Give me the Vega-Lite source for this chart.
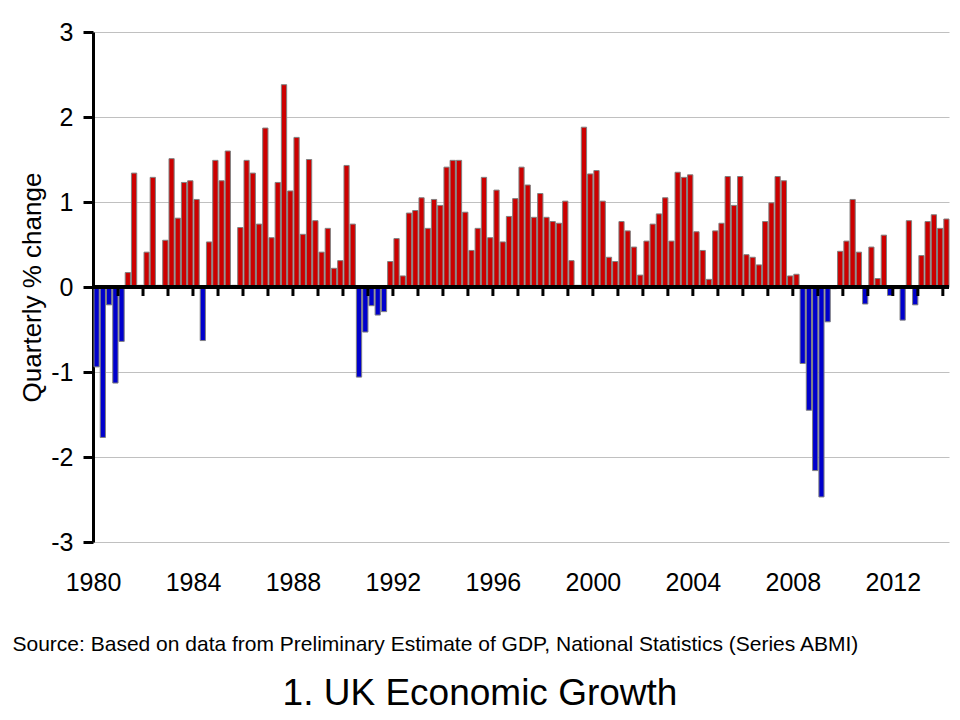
{
  "$schema": "https://vega.github.io/schema/vega-lite/v6.json",
  "autosize": "none",
  "width": 856,
  "height": 510,
  "padding": {"left": 93, "top": 32, "right": 11, "bottom": 178},
  "background": "white",
  "config": {"font": "Liberation Sans", "view": {"stroke": null}},
  "title": {"text": "1. UK Economic Growth", "orient": "bottom", "fontSize": 37, "fontWeight": "normal", "color": "black", "anchor": "middle", "offset": 22, "dx": -41, "font": "Liberation Sans"},
  "data": {
    "format": {"parse": {"d": "date"}},
    "values": [
      {"d":"1980-01-01","v":-0.94},{"d":"1980-04-01","v":-1.77},{"d":"1980-07-01","v":-0.21},{"d":"1980-10-01","v":-1.13},
      {"d":"1981-01-01","v":-0.64},{"d":"1981-04-01","v":0.17},{"d":"1981-07-01","v":1.34},{"d":"1981-10-01","v":0.02},
      {"d":"1982-01-01","v":0.41},{"d":"1982-04-01","v":1.29},{"d":"1982-07-01","v":0.02},{"d":"1982-10-01","v":0.55},
      {"d":"1983-01-01","v":1.51},{"d":"1983-04-01","v":0.81},{"d":"1983-07-01","v":1.23},{"d":"1983-10-01","v":1.25},
      {"d":"1984-01-01","v":1.03},{"d":"1984-04-01","v":-0.63},{"d":"1984-07-01","v":0.53},{"d":"1984-10-01","v":1.49},
      {"d":"1985-01-01","v":1.25},{"d":"1985-04-01","v":1.60},{"d":"1985-07-01","v":0.02},{"d":"1985-10-01","v":0.70},
      {"d":"1986-01-01","v":1.49},{"d":"1986-04-01","v":1.34},{"d":"1986-07-01","v":0.74},{"d":"1986-10-01","v":1.87},
      {"d":"1987-01-01","v":0.58},{"d":"1987-04-01","v":1.23},{"d":"1987-07-01","v":2.38},{"d":"1987-10-01","v":1.13},
      {"d":"1988-01-01","v":1.76},{"d":"1988-04-01","v":0.62},{"d":"1988-07-01","v":1.50},{"d":"1988-10-01","v":0.78},
      {"d":"1989-01-01","v":0.41},{"d":"1989-04-01","v":0.69},{"d":"1989-07-01","v":0.22},{"d":"1989-10-01","v":0.31},
      {"d":"1990-01-01","v":1.43},{"d":"1990-04-01","v":0.74},{"d":"1990-07-01","v":-1.06},{"d":"1990-10-01","v":-0.53},
      {"d":"1991-01-01","v":-0.22},{"d":"1991-04-01","v":-0.33},{"d":"1991-07-01","v":-0.29},{"d":"1991-10-01","v":0.30},
      {"d":"1992-01-01","v":0.57},{"d":"1992-04-01","v":0.13},{"d":"1992-07-01","v":0.87},{"d":"1992-10-01","v":0.90},
      {"d":"1993-01-01","v":1.05},{"d":"1993-04-01","v":0.69},{"d":"1993-07-01","v":1.03},{"d":"1993-10-01","v":0.96},
      {"d":"1994-01-01","v":1.41},{"d":"1994-04-01","v":1.49},{"d":"1994-07-01","v":1.49},{"d":"1994-10-01","v":0.88},
      {"d":"1995-01-01","v":0.43},{"d":"1995-04-01","v":0.69},{"d":"1995-07-01","v":1.29},{"d":"1995-10-01","v":0.58},
      {"d":"1996-01-01","v":1.14},{"d":"1996-04-01","v":0.53},{"d":"1996-07-01","v":0.83},{"d":"1996-10-01","v":1.04},
      {"d":"1997-01-01","v":1.41},{"d":"1997-04-01","v":1.20},{"d":"1997-07-01","v":0.82},{"d":"1997-10-01","v":1.10},
      {"d":"1998-01-01","v":0.82},{"d":"1998-04-01","v":0.77},{"d":"1998-07-01","v":0.75},{"d":"1998-10-01","v":1.01},
      {"d":"1999-01-01","v":0.31},{"d":"1999-04-01","v":0.02},{"d":"1999-07-01","v":1.88},{"d":"1999-10-01","v":1.33},
      {"d":"2000-01-01","v":1.37},{"d":"2000-04-01","v":1.01},{"d":"2000-07-01","v":0.35},{"d":"2000-10-01","v":0.30},
      {"d":"2001-01-01","v":0.77},{"d":"2001-04-01","v":0.66},{"d":"2001-07-01","v":0.47},{"d":"2001-10-01","v":0.14},
      {"d":"2002-01-01","v":0.54},{"d":"2002-04-01","v":0.74},{"d":"2002-07-01","v":0.86},{"d":"2002-10-01","v":1.05},
      {"d":"2003-01-01","v":0.54},{"d":"2003-04-01","v":1.35},{"d":"2003-07-01","v":1.29},{"d":"2003-10-01","v":1.32},
      {"d":"2004-01-01","v":0.65},{"d":"2004-04-01","v":0.43},{"d":"2004-07-01","v":0.09},{"d":"2004-10-01","v":0.66},
      {"d":"2005-01-01","v":0.75},{"d":"2005-04-01","v":1.30},{"d":"2005-07-01","v":0.96},{"d":"2005-10-01","v":1.30},
      {"d":"2006-01-01","v":0.38},{"d":"2006-04-01","v":0.35},{"d":"2006-07-01","v":0.26},{"d":"2006-10-01","v":0.77},
      {"d":"2007-01-01","v":0.99},{"d":"2007-04-01","v":1.30},{"d":"2007-07-01","v":1.25},{"d":"2007-10-01","v":0.13},
      {"d":"2008-01-01","v":0.15},{"d":"2008-04-01","v":-0.90},{"d":"2008-07-01","v":-1.45},{"d":"2008-10-01","v":-2.16},
      {"d":"2009-01-01","v":-2.47},{"d":"2009-04-01","v":-0.41},{"d":"2009-07-01","v":-0.02},{"d":"2009-10-01","v":0.42},
      {"d":"2010-01-01","v":0.54},{"d":"2010-04-01","v":1.03},{"d":"2010-07-01","v":0.41},{"d":"2010-10-01","v":-0.20},
      {"d":"2011-01-01","v":0.47},{"d":"2011-04-01","v":0.10},{"d":"2011-07-01","v":0.61},{"d":"2011-10-01","v":-0.10},
      {"d":"2012-01-01","v":-0.02},{"d":"2012-04-01","v":-0.39},{"d":"2012-07-01","v":0.78},{"d":"2012-10-01","v":-0.21},
      {"d":"2013-01-01","v":0.37},{"d":"2013-04-01","v":0.77},{"d":"2013-07-01","v":0.85},{"d":"2013-10-01","v":0.69},
      {"d":"2014-01-01","v":0.80}
    ]
  },
  "layer": [
    {
      "mark": {"type": "bar", "stroke": "#808080", "strokeWidth": 1, "timeUnitBandSize": 0.8},
      "encoding": {
        "x": {
          "field": "d", "timeUnit": "utcyearquarter", "type": "temporal",
          "scale": {"type": "utc", "domain": [{"year": 1980, "month": 1, "date": 1, "utc": true}, {"year": 2014, "month": 4, "date": 1, "utc": true}]},
          "axis": {
            "values": [
              {"year": 1980, "month": 1, "date": 1, "utc": true},
              {"year": 1984, "month": 1, "date": 1, "utc": true},
              {"year": 1988, "month": 1, "date": 1, "utc": true},
              {"year": 1992, "month": 1, "date": 1, "utc": true},
              {"year": 1996, "month": 1, "date": 1, "utc": true},
              {"year": 2000, "month": 1, "date": 1, "utc": true},
              {"year": 2004, "month": 1, "date": 1, "utc": true},
              {"year": 2008, "month": 1, "date": 1, "utc": true},
              {"year": 2012, "month": 1, "date": 1, "utc": true}
            ],
            "labelExpr": "utcFormat(datum.value, '%Y')",
            "domain": false, "ticks": false, "grid": false,
            "labelFontSize": 25, "labelColor": "black", "labelPadding": 28, "labelFlush": false, "labelOverlap": false,
            "title": "Source: Based on data from Preliminary Estimate of GDP, National Statistics (Series ABMI)",
            "titleFontSize": 21, "titleFontWeight": "normal", "titleColor": "black",
            "titleAnchor": "start", "titleAlign": "left", "titleX": -81, "titleY": 108, "titleBaseline": "alphabetic"
          }
        },
        "y": {
          "field": "v", "type": "quantitative",
          "scale": {"domain": [-3, 3], "nice": false},
          "axis": {
            "values": [-3, -2, -1, 0, 1, 2, 3],
            "labelExpr": "'' + datum.value",
            "grid": true, "gridColor": "#c0c0c0", "gridWidth": 1,
            "domainColor": "black", "domainWidth": 3,
            "tickColor": "black", "tickWidth": 3, "tickSize": 10,
            "labelFontSize": 25, "labelColor": "black", "labelPadding": 10,
            "title": "Quarterly % change", "titleFontSize": 26, "titleFontWeight": "normal", "titleColor": "black",
            "titleX": -61, "titleBaseline": "middle"
          }
        },
        "fill": {"condition": {"test": "datum.v < 0", "value": "#0000CC"}, "value": "#CC0000"}
      }
    },
    {
      "mark": {"type": "rule", "color": "black", "strokeWidth": 3},
      "encoding": {"y": {"datum": 0, "type": "quantitative"}}
    },
    {
      "transform": [{"filter": "utcmonth(datum.d) == 0 && utcyear(datum.d) > 1980"}],
      "mark": {"type": "tick", "orient": "vertical", "size": 8, "thickness": 3, "color": "black", "opacity": 1, "yOffset": 5},
      "encoding": {
        "x": {"field": "d", "type": "temporal"},
        "y": {"datum": 0, "type": "quantitative"}
      }
    }
  ]
}
